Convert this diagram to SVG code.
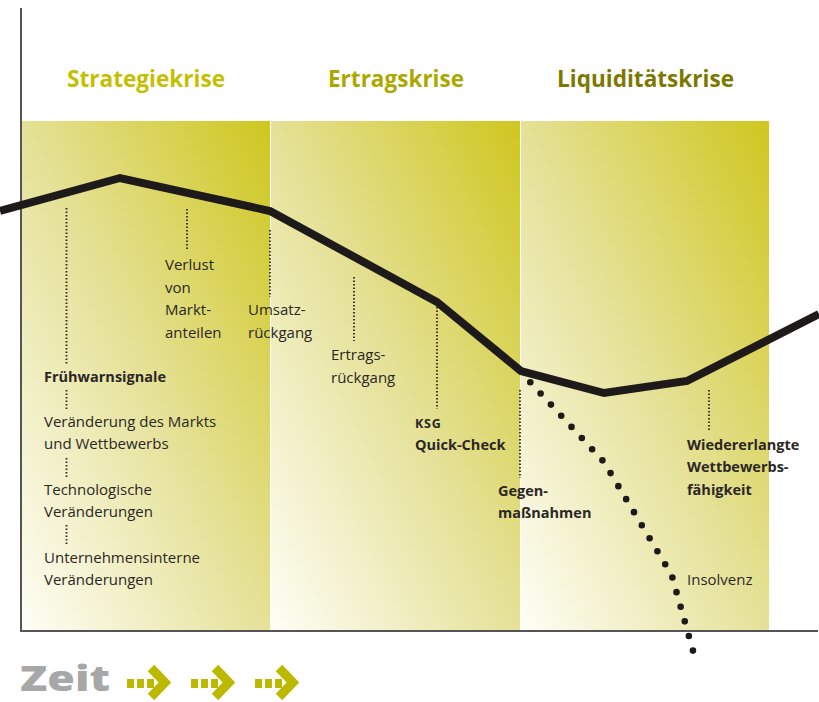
<svg xmlns="http://www.w3.org/2000/svg" width="819" height="702" viewBox="0 0 819 702">
<defs>
<linearGradient id="pg" x1="0" y1="1" x2="1" y2="0">
<stop offset="0" stop-color="#fefef6"/>
<stop offset="0.5" stop-color="#e5e197"/>
<stop offset="1" stop-color="#cec71f"/>
</linearGradient>
<style>
.hd{font-family:"Open Sans","Liberation Sans",sans-serif;font-weight:700;font-size:24px}
.t{font-family:"Open Sans","Noto Sans","Liberation Sans",sans-serif;font-size:15px;fill:#2b2725}
.b{font-weight:700;font-size:14.5px}
.dot{fill:none;stroke:#2b2725;stroke-width:1.8;stroke-dasharray:1.5 2}
.ar{fill:#bdb800}
.ch{fill:none;stroke:#bdb800;stroke-width:9;stroke-linejoin:miter}
</style>
</defs>
<rect width="819" height="702" fill="#ffffff"/>
<g id="panels">
<rect x="21" y="121" width="249" height="509" fill="url(#pg)"/>
<rect x="271" y="121" width="249" height="509" fill="url(#pg)"/>
<rect x="521" y="121" width="248" height="509" fill="url(#pg)"/>
</g>
<g id="axes" stroke="#555555" stroke-width="2" fill="none">
<line x1="21" y1="8" x2="21" y2="631"/>
<line x1="20" y1="631" x2="818" y2="631"/>
</g>
<g id="headers">
<text class="hd" x="67" y="87" fill="#c4bf00" textLength="158" lengthAdjust="spacingAndGlyphs">Strategiekrise</text>
<text class="hd" x="328" y="87" fill="#ada800" textLength="136" lengthAdjust="spacingAndGlyphs">Ertragskrise</text>
<text class="hd" x="557" y="87" fill="#7d7800" textLength="177" lengthAdjust="spacingAndGlyphs">Liquiditätskrise</text>
</g>
<g id="connectors">
<polyline points="0,211 120,178 270,211 437,302 521,371 604,393 687,381 819,314" fill="none" stroke="#1e1a1a" stroke-width="8" stroke-linejoin="miter"/>
<path d="M530.3,382.3 L603.7,461.7 L671.7,575 L693,650.7" fill="none" stroke="#1e1a1a" stroke-width="6.6" stroke-linecap="round" stroke-dasharray="0 15.18"/>
<line class="dot" x1="66.5" y1="208" x2="66.5" y2="364"/>
<line class="dot" x1="66.5" y1="390" x2="66.5" y2="409"/>
<line class="dot" x1="66.5" y1="458" x2="66.5" y2="478"/>
<line class="dot" x1="66.5" y1="525" x2="66.5" y2="546"/>
<line class="dot" x1="187" y1="209" x2="187" y2="251"/>
<line class="dot" x1="270" y1="230" x2="270" y2="297"/>
<line class="dot" x1="354" y1="277" x2="354" y2="341"/>
<line class="dot" x1="437" y1="307" x2="437" y2="409"/>
<line class="dot" x1="520" y1="390" x2="520" y2="478"/>
<line class="dot" x1="709" y1="390" x2="709" y2="432"/>
</g>
<g id="n-verlust">
<text class="t" x="165" y="270">Verlust</text>
<text class="t" x="165" y="292.5">von</text>
<text class="t" x="165" y="315">Markt-</text>
<text class="t" x="165" y="337.5">anteilen</text>
</g>
<g id="n-umsatz">
<text class="t" x="248" y="315">Umsatz-</text>
<text class="t" x="248" y="337.5">rückgang</text>
</g>
<g id="n-ertrag">
<text class="t" x="331" y="360">Ertrags-</text>
<text class="t" x="331" y="382.5">rückgang</text>
</g>
<g id="n-ksg">
<text class="t b" x="415" y="428" style="font-size:12.5px;letter-spacing:0.8px">KSG</text>
<text class="t b" x="415" y="449.5">Quick-Check</text>
</g>
<g id="n-gegen">
<text class="t b" x="498" y="496">Gegen-</text>
<text class="t b" x="498" y="518">maßnahmen</text>
</g>
<g id="n-wieder">
<text class="t b" x="687" y="450">Wiedererlangte</text>
<text class="t b" x="687" y="472">Wettbewerbs-</text>
<text class="t b" x="687" y="495">fähigkeit</text>
</g>
<g id="n-insolvenz">
<text class="t" x="687" y="585">Insolvenz</text>
</g>
<g id="n-frueh">
<text class="t b" x="44" y="382">Frühwarnsignale</text>
</g>
<g id="n-markt">
<text class="t" x="44" y="427">Veränderung des Markts</text>
<text class="t" x="44" y="449">und Wettbewerbs</text>
</g>
<g id="n-tech">
<text class="t" x="44" y="495">Technologische</text>
<text class="t" x="44" y="517">Veränderungen</text>
</g>
<g id="n-intern">
<text class="t" x="44" y="563">Unternehmensinterne</text>
<text class="t" x="44" y="585">Veränderungen</text>
</g>
<g id="zeit">
<text x="20" y="691" font-family="'Open Sans','Liberation Sans',sans-serif" font-weight="800" font-size="36" fill="#a7a7a7" textLength="90" lengthAdjust="spacingAndGlyphs">Zeit</text>
<g id="arrow1">
<rect class="ar" x="127" y="679" width="7" height="9"/><rect class="ar" x="137" y="679" width="7" height="9"/><rect class="ar" x="147" y="679" width="7" height="9"/>
<polyline class="ch" points="151,668 165,682.5 151,697"/>
</g>
<g id="arrow2" transform="translate(64,0)">
<rect class="ar" x="127" y="679" width="7" height="9"/><rect class="ar" x="137" y="679" width="7" height="9"/><rect class="ar" x="147" y="679" width="7" height="9"/>
<polyline class="ch" points="151,668 165,682.5 151,697"/>
</g>
<g id="arrow3" transform="translate(128,0)">
<rect class="ar" x="127" y="679" width="7" height="9"/><rect class="ar" x="137" y="679" width="7" height="9"/><rect class="ar" x="147" y="679" width="7" height="9"/>
<polyline class="ch" points="151,668 165,682.5 151,697"/>
</g>
</g>
</svg>
